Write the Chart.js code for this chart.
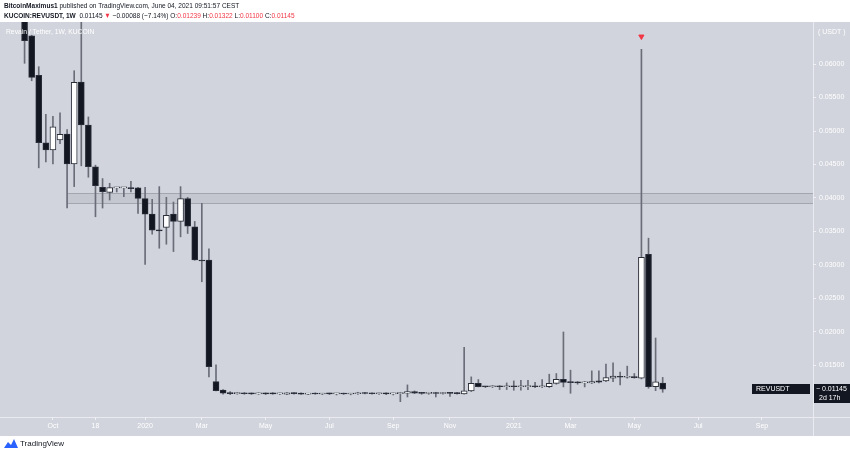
<!DOCTYPE html>
<html>
<head>
<meta charset="utf-8">
<script src="https://cdn.jsdelivr.net/npm/chart.js@4.4.1/dist/chart.umd.min.js"></script>
<style>
  html, body { margin: 0; padding: 0; background: #ffffff; }
  #wrap { position: relative; width: 850px; height: 454px; overflow: hidden; font-family: "Liberation Sans Narrow", "Liberation Sans", Arial, sans-serif; }
  #myChart { position: absolute; left: 0; top: 0; }
  .hdr { position: absolute; left: 4px; font-size: 7.5px; color: #131722; white-space: nowrap; transform: scaleX(0.87); transform-origin: 0 0; }
  .red { color: #f23645; }
  #title { position: absolute; left: 6px; top: 27px; font-size: 7.5px; color: #ffffff; white-space: nowrap; transform: scaleX(0.9); transform-origin: 0 0; }
  #logo { position: absolute; left: 4px; top: 439px; font-size: 8px; color: #131722; white-space: nowrap; }
  #logo svg { vertical-align: -2px; margin-right: 2px; }
</style>
</head>
<body>
<div id="wrap">
  <canvas id="myChart" width="850" height="454"></canvas>
  <div class="hdr" style="top:1px"><b>BitcoinMaximus1</b> published on TradingView.com, June 04, 2021 09:51:57 CEST</div>
  <div class="hdr" style="top:11px"><b>KUCOIN:REVUSDT, 1W</b>&nbsp; 0.01145 <span class="red">&#9660;</span> &minus;0.00088 (&minus;7.14%) O:<span class="red">0.01239</span> H:<span class="red">0.01322</span> L:<span class="red">0.01100</span> C:<span class="red">0.01145</span></div>
  <div id="title">Revain / Tether, 1W, KUCOIN</div>
  <div id="logo"><svg width="14" height="9" viewBox="0 0 14 9"><path d="M0 9 L4 3 L7 6 L10 0 L14 9 Z" fill="#2962ff"/></svg>TradingView</div>
</div>
<script>
// week index of every candle (0 = week of Sep 9 2019, 90 = week of May 31 2021)
const weeks = []
for (let i = 0; i <= 90; i++) weeks.push(i)

// OHLC, one value per week
const opens = [
  0.0668, 0.0642, 0.0583, 0.04825, 0.04716, 0.04866, 0.04955, 0.04507, 0.05731, 0.0509,
  0.04467, 0.0416, 0.04085, 0.0415, 0.0415, 0.0415, 0.0415, 0.0399, 0.0376, 0.0352,
  0.0356, 0.0376, 0.0365, 0.0399, 0.0357, 0.0307, 0.03075, 0.01258, 0.01134, 0.01085,
  0.0108, 0.01082, 0.01078, 0.01076, 0.0108, 0.0109, 0.01075, 0.01072, 0.0109, 0.01088,
  0.01072, 0.01085, 0.01074, 0.01076, 0.01075, 0.01077, 0.01074, 0.01078, 0.01095, 0.01082,
  0.01078, 0.0108, 0.01077, 0.0108, 0.01085, 0.0111, 0.01085, 0.01083, 0.01085, 0.01082,
  0.01085, 0.01083, 0.01075, 0.0112, 0.01234, 0.01184, 0.01182, 0.01184, 0.01182, 0.01185,
  0.01182, 0.01184, 0.01186, 0.01183, 0.01184, 0.01234, 0.01294, 0.01249, 0.01245, 0.0124,
  0.0124, 0.0127, 0.0127, 0.0131, 0.01328, 0.01325, 0.0133, 0.01309, 0.0316, 0.01184,
  0.01239
]
const highs = [
  0.0680, 0.0643, 0.0596, 0.0525, 0.0522, 0.0527, 0.0502, 0.0590, 0.0670, 0.0521,
  0.0449, 0.0429, 0.0422, 0.0416, 0.0416, 0.0425, 0.0416, 0.0416, 0.0398, 0.0417,
  0.0401, 0.0394, 0.0417, 0.0401, 0.0365, 0.0392, 0.0324, 0.0151, 0.0114, 0.0111,
  0.0110, 0.01095, 0.0109, 0.01092, 0.0109, 0.01095, 0.01088, 0.01095, 0.01095, 0.01092,
  0.01085, 0.01092, 0.01085, 0.01088, 0.01085, 0.01088, 0.01085, 0.0110, 0.0110, 0.0109,
  0.01088, 0.0109, 0.01088, 0.0110, 0.0121, 0.0112, 0.0110, 0.0110, 0.0110, 0.0110,
  0.0110, 0.0110, 0.0177, 0.0133, 0.0129, 0.0119, 0.0120, 0.0120, 0.0124, 0.0127,
  0.0128, 0.0128, 0.0125, 0.0129, 0.0137, 0.0138, 0.0200, 0.0143, 0.0126, 0.0126,
  0.0142, 0.0142, 0.0152, 0.0154, 0.0140, 0.0149, 0.0138, 0.0622, 0.0340, 0.0191,
  0.01322
]
const lows = [
  0.0601, 0.0575, 0.0445, 0.0454, 0.0451, 0.0481, 0.0385, 0.0417, 0.0448, 0.0431,
  0.0372, 0.0385, 0.0397, 0.0409, 0.0402, 0.0409, 0.0377, 0.0301, 0.0346, 0.0325,
  0.0331, 0.0320, 0.0342, 0.0347, 0.0307, 0.0275, 0.0133, 0.0112, 0.0107, 0.01065,
  0.0107, 0.0107, 0.01068, 0.01068, 0.01066, 0.0107, 0.01066, 0.01065, 0.0107, 0.01068,
  0.01065, 0.0107, 0.01065, 0.01066, 0.0106, 0.01068, 0.01062, 0.01068, 0.01075, 0.0107,
  0.01068, 0.01065, 0.0106, 0.0096, 0.0103, 0.0108, 0.0107, 0.0107, 0.0103, 0.0107,
  0.0104, 0.0107, 0.0107, 0.0111, 0.0118, 0.0117, 0.0117, 0.0114, 0.0114, 0.0113,
  0.0113, 0.0114, 0.0117, 0.0117, 0.0117, 0.0122, 0.0118, 0.01085, 0.0122, 0.0118,
  0.0123, 0.0124, 0.0126, 0.0126, 0.0121, 0.0131, 0.0131, 0.0130, 0.0116, 0.01124,
  0.0110
]
const closes = [
  0.0635, 0.0580, 0.04825, 0.04716, 0.05064, 0.04951, 0.04507, 0.05727, 0.0509, 0.04467,
  0.04184, 0.04094, 0.04154, 0.04155, 0.0415, 0.0414, 0.03995, 0.03757, 0.0352, 0.0351,
  0.0374, 0.0365, 0.0399, 0.0358, 0.03075, 0.0306, 0.01482, 0.01124, 0.01085, 0.0108,
  0.01082, 0.01078, 0.01076, 0.0108, 0.01075, 0.01075, 0.01078, 0.01092, 0.0108, 0.01072,
  0.01076, 0.01074, 0.01076, 0.01075, 0.01077, 0.01074, 0.01078, 0.01082, 0.01082, 0.01078,
  0.0108, 0.01077, 0.0108, 0.01083, 0.0111, 0.01085, 0.01083, 0.01085, 0.01082, 0.01085,
  0.01083, 0.0108, 0.0112, 0.01234, 0.01184, 0.01182, 0.01184, 0.01182, 0.01185, 0.01182,
  0.01184, 0.01186, 0.01183, 0.01186, 0.01234, 0.01294, 0.01249, 0.01245, 0.0124, 0.0124,
  0.0126, 0.0125, 0.01318, 0.01343, 0.01325, 0.0133, 0.01318, 0.03115, 0.01184, 0.01255,
  0.01145
]

// time axis labels and where they sit (week index)
const tickWeeks = [4, 10, 17, 25, 34, 43, 52, 60, 69, 77, 86, 95, 104]
const tickLabels = ['Oct', '18', '2020', 'Mar', 'May', 'Jul', 'Sep', 'Nov', '2021', 'Mar', 'May', 'Jul', 'Sep']

// price axis labels
const priceTicks = [0.015, 0.02, 0.025, 0.03, 0.035, 0.04, 0.045, 0.05, 0.055, 0.06]

// drawn support zone: first week, top price, bottom price
const zoneWeek = [6]
const zonePrices = [0.0407, 0.0392]

// red marker above the big wick
const markerWeek = [87]
const markerPrice = [0.0641]

const BG = '#d1d4dc'

// gray pane, separators, zone box and last price labels
const paneplugin = {
  id: 'pane',
  beforeDraw(chart) {
    const c = chart.ctx
    const a = chart.chartArea
    c.save()
    c.fillStyle = BG
    c.fillRect(0, a.top, chart.width, 436 - a.top)
    c.strokeStyle = '#e9ebf0'
    c.lineWidth = 1
    c.beginPath()
    c.moveTo(a.right + 0.5, a.top); c.lineTo(a.right + 0.5, 436)
    c.moveTo(0, a.bottom + 0.5); c.lineTo(chart.width, a.bottom + 0.5)
    c.stroke()
    c.restore()
  },
  beforeDatasetsDraw(chart) {
    const c = chart.ctx
    const a = chart.chartArea
    const x = chart.scales.x.getPixelForValue(zoneWeek[0])
    const y1 = Math.round(chart.scales.y.getPixelForValue(zonePrices[0])) + 0.5
    const y2 = Math.round(chart.scales.y.getPixelForValue(zonePrices[1])) + 0.5
    c.save()
    c.fillStyle = 'rgba(150,155,165,0.22)'
    c.fillRect(x, y1, a.right - x, y2 - y1)
    c.strokeStyle = '#a3a6af'
    c.lineWidth = 1
    c.beginPath()
    c.moveTo(x, y1); c.lineTo(a.right, y1)
    c.moveTo(x, y2); c.lineTo(a.right, y2)
    c.stroke()
    c.restore()
  },
  afterDraw(chart) {
    const c = chart.ctx
    const a = chart.chartArea
    const last = closes[closes.length - 1]
    const y = Math.round(chart.scales.y.getPixelForValue(last))
    c.save()
    c.font = '7px "Liberation Sans Narrow", "Liberation Sans", sans-serif'
    c.textBaseline = 'middle'
    // symbol tag
    c.fillStyle = '#131722'
    c.fillRect(752, y - 5, 58, 10)
    c.fillStyle = '#ffffff'
    c.fillText('REVUSDT', 756, y)
    // price tag
    c.fillStyle = '#131722'
    c.fillRect(a.right + 1, y - 5, 36, 19)
    c.fillStyle = '#ffffff'
    c.fillText('\u2212 ' + last.toFixed(5), a.right + 3, y)
    c.fillText('2d 17h', a.right + 6, y + 9)
    // currency on top of price axis
    c.fillStyle = '#ffffff'
    c.fillText('( USDT )', a.right + 5, 32)
    c.restore()
  }
}

function updateChart() {
  const ctx = document.getElementById('myChart').getContext('2d')

  const wickData = weeks.map((w, i) => ({ x: w, y: [lows[i], highs[i]] }))
  const bodyData = weeks.map((w, i) => ({ x: w, y: [opens[i], closes[i]] }))
  const bodyColors = weeks.map((w, i) => closes[i] >= opens[i] ? '#ffffff' : '#131722')

  new Chart(ctx, {
    type: 'bar',
    data: {
      datasets: [{
        type: 'scatter',
        data: [{ x: markerWeek[0], y: markerPrice[0] }],
        pointStyle: 'triangle',
        rotation: 180,
        pointRadius: 3,
        backgroundColor: '#f23645',
        borderColor: '#f23645',
        order: 0
      }, {
        label: 'bodies',
        data: bodyData,
        backgroundColor: bodyColors,
        borderColor: '#2a2e39',
        borderWidth: 1,
        borderSkipped: false,
        barThickness: 6,
        minBarLength: 1,
        grouped: false,
        order: 1
      }, {
        label: 'wicks',
        data: wickData,
        backgroundColor: '#6a6d78',
        barThickness: 1,
        grouped: false,
        order: 2
      }]
    },
    options: {
      responsive: false,
      animation: false,
      layout: { padding: { top: 22, bottom: 18, left: 0, right: 0 } },
      plugins: { legend: { display: false }, tooltip: { enabled: false } },
      scales: {
        x: {
          type: 'linear',
          min: -2.76,
          max: 111.2,
          offset: false,
          afterBuildTicks: s => { s.ticks = tickWeeks.map(v => ({ value: v })) },
          afterFit: s => { s.height = 19 },
          border: { display: false },
          grid: { offset: false, drawOnChartArea: false, tickLength: 3, color: '#eef0f3' },
          ticks: {
            autoSkip: false, maxRotation: 0, padding: 2,
            color: '#ffffff',
            font: { family: '"Liberation Sans Narrow", "Liberation Sans", sans-serif', size: 7 },
            callback: (v, i) => tickLabels[i]
          }
        },
        y: {
          position: 'right',
          min: 0.00731,
          max: 0.06627,
          afterBuildTicks: s => { s.ticks = priceTicks.map(v => ({ value: v })) },
          afterFit: s => { s.width = 37 },
          border: { display: false },
          grid: { offset: false, drawOnChartArea: false, tickLength: 3, color: '#eef0f3' },
          ticks: {
            padding: 3,
            color: '#ffffff',
            font: { family: '"Liberation Sans Narrow", "Liberation Sans", sans-serif', size: 7 },
            callback: v => v.toFixed(5)
          }
        }
      }
    },
    plugins: [paneplugin]
  })
}

updateChart()
</script>
</body>
</html>
